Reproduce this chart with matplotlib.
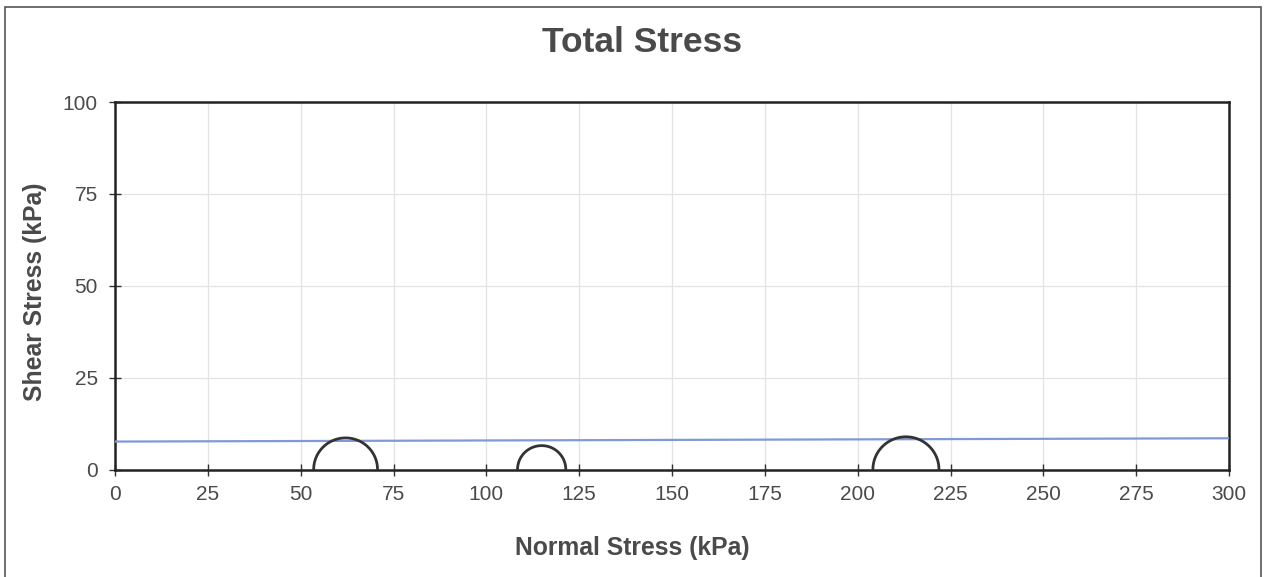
import numpy as np
import matplotlib
matplotlib.use("Agg")
import matplotlib.pyplot as plt
from matplotlib.patches import Rectangle

# Data
circle_centers = [62.1, 114.9, 213.0]   # kPa
circle_radii = [8.6, 6.5, 8.9]          # kPa
envelope_x = [0, 300]
envelope_y = [7.6, 8.5]
x_ticks = [0, 25, 50, 75, 100, 125, 150, 175, 200, 225, 250, 275, 300]
y_ticks = [0, 25, 50, 75, 100]

plt.rcParams['font.family'] = ['Liberation Sans', 'DejaVu Sans']
txt = '#4a4a4a'

fig = plt.figure(figsize=(12.64, 5.77), dpi=100)
fig.patches.append(Rectangle((5/1264, -5/577), 1256/1264, (577 - 7 + 5)/577, transform=fig.transFigure,
                             fill=False, edgecolor='#555555', linewidth=1.2))
ax = fig.add_axes([115/1264, 1 - 469.5/577, (1229 - 115)/1264, (469.5 - 102)/577])

ax.plot(envelope_x, envelope_y, color='#7f9ad6', linewidth=1.6, zorder=3)
t = np.linspace(0, np.pi, 200)
for c, r in zip(circle_centers, circle_radii):
    ax.plot(c + r * np.cos(t), r * np.sin(t), color='#333333', linewidth=2.0, zorder=4)

ax.set_xlim(0, 300)
ax.set_ylim(0, 100)
ax.set_xticks(x_ticks)
ax.set_yticks(y_ticks)
ax.grid(True, color='#e3e3e3', linewidth=0.9)
ax.set_axisbelow(True)
for s in ax.spines.values():
    s.set_color('#222222')
    s.set_linewidth(1.8)
ax.tick_params(direction='inout', length=9, width=1.0, color='#333333',
               labelsize=15, labelcolor=txt)
ax.tick_params(axis='x', pad=7)
ax.tick_params(axis='y', pad=8)
fig.text(632/1264, 1 - 548/577, 'Normal Stress (kPa)', fontsize=17.8, fontweight='bold',
         color=txt, ha='center', va='center')
fig.text(35/1264, 1 - 292/577, 'Shear Stress (kPa)', fontsize=17.8, fontweight='bold',
         color=txt, ha='center', va='center', rotation=90)
fig.text(642/1264, 1 - 42/577, 'Total Stress', fontsize=25.5, fontweight='bold', color=txt,
         ha='center', va='center')

fig.savefig('out.png', dpi=100)
